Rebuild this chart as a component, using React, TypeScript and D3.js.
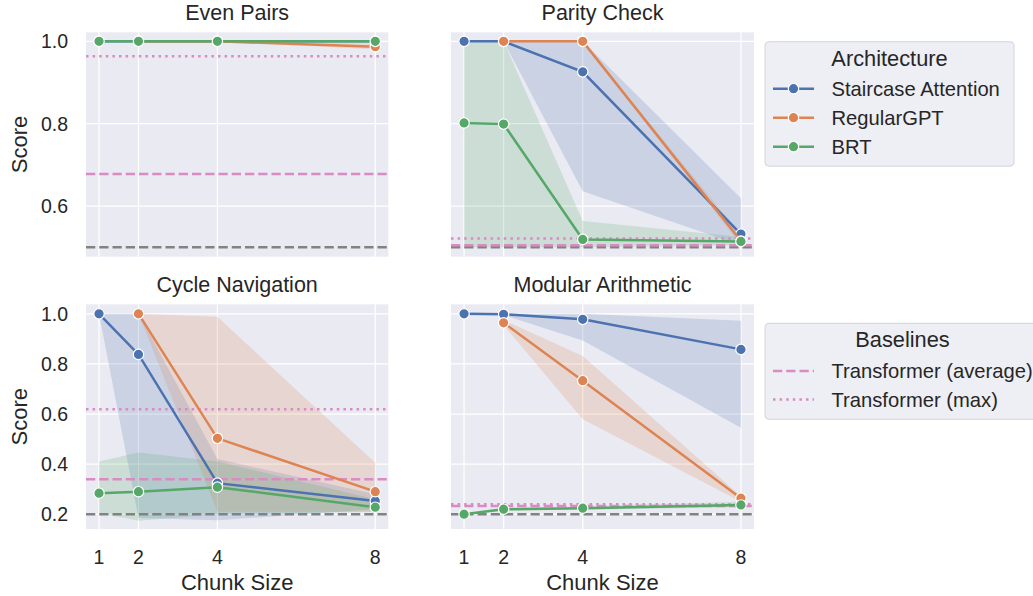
import React from "react";
import * as d3 from "d3";

const chunkSizes = [1, 2, 4, 8];
const architectures = ["Staircase Attention", "RegularGPT", "BRT"];
const archColors = ["#4c72b0", "#dd8452", "#55a868"];
const taskNames = ["Even Pairs", "Parity Check", "Cycle Navigation", "Modular Arithmetic"];

// rows: [chunk size, mean score, ci low, ci high]
const evenStaircase = [[1, 1, 1, 1], [2, 1, 1, 1], [4, 1, 1, 1], [8, 1, 1, 1]];
const evenRegular = [[2, 1, 1, 1], [4, 1, 1, 1], [8, 0.987, 0.98, 0.995]];
const evenBrt = [[1, 1, 1, 1], [2, 1, 1, 1], [4, 1, 1, 1], [8, 1, 1, 1]];

const parityStaircase = [[1, 1, 1, 1], [2, 1, 1, 1], [4, 0.926, 0.636, 1], [8, 0.532, 0.505, 0.619]];
const parityRegular = [[2, 1, 1, 1], [4, 1, 1, 1], [8, 0.515, 0.505, 0.53]];
const parityBrt = [[1, 0.802, 0.5, 1], [2, 0.799, 0.5, 1], [4, 0.519, 0.5, 0.564], [8, 0.514, 0.505, 0.525]];

const cycleStaircase = [[1, 1, 1, 1], [2, 0.838, 0.185, 1], [4, 0.324, 0.176, 0.42], [8, 0.253, 0.22, 0.28]];
const cycleRegular = [[2, 1, 1, 1], [4, 0.503, 0.21, 0.988], [8, 0.29, 0.21, 0.405]];
const cycleBrt = [[1, 0.284, 0.205, 0.41], [2, 0.29, 0.174, 0.446], [4, 0.308, 0.2, 0.41], [8, 0.228, 0.21, 0.26]];

const modStaircase = [[1, 1, 1, 1], [2, 0.998, 0.995, 1], [4, 0.978, 0.893, 1], [8, 0.858, 0.545, 0.972]];
const modRegular = [[2, 0.964, 0.955, 0.975], [4, 0.733, 0.579, 0.832], [8, 0.264, 0.25, 0.272]];
const modBrt = [[1, 0.2, 0.2, 0.2], [2, 0.22, 0.215, 0.225], [4, 0.224, 0.218, 0.232], [8, 0.237, 0.228, 0.25]];

const taskSeries = [
  [evenStaircase, evenRegular, evenBrt],
  [parityStaircase, parityRegular, parityBrt],
  [cycleStaircase, cycleRegular, cycleBrt],
  [modStaircase, modRegular, modBrt],
];

const transformerAvg = [0.678, 0.505, 0.34, 0.233];
const transformerMax = [0.964, 0.521, 0.619, 0.24];
const randomChance = [0.5, 0.5, 0.2, 0.2];

const rowTicks = [[0.6, 0.8, 1.0], [0.2, 0.4, 0.6, 0.8, 1.0]];
const rowDomains = [[0.477, 1.022], [0.141, 1.038]];

const colX = [[86, 388.3], [451, 754]];
const rowY = [[32.3, 256.7], [304.3, 529]];
const xDomain = [0.67, 8.33];

const FONT = "'Liberation Sans', Arial, Helvetica, sans-serif";
const TEXT = "#262626";
const PINK = "#da8bc3";
const GRAY = "#828282";
const DASH = "9.25 4";
const DOT = "2.5 4.1";

const Panel = ({ task, row, col }: { task: number; row: number; col: number }) => {
  const [x0, x1] = colX[col];
  const [y0, y1] = rowY[row];
  const x = d3.scaleLinear(xDomain, [x0, x1]);
  const y = d3.scaleLinear(rowDomains[row], [y1, y0]);
  const line = d3.line<number[]>((d) => x(d[0]), (d) => y(d[1]));
  const area = d3
    .area<number[]>()
    .x((d) => x(d[0]))
    .y0((d) => y(d[2]))
    .y1((d) => y(d[3]));
  const series = taskSeries[task];
  const clipId = `clip-${task}`;

  return (
    <g>
      <defs>
        <clipPath id={clipId}>
          <rect x={x0} y={y0} width={x1 - x0} height={y1 - y0} />
        </clipPath>
      </defs>
      <rect x={x0} y={y0} width={x1 - x0} height={y1 - y0} fill="#eaeaf2" />
      <g stroke="#ffffff" strokeWidth={1.25}>
        {rowTicks[row].map((t) => (
          <line key={`h${t}`} x1={x0} x2={x1} y1={y(t)} y2={y(t)} />
        ))}
        {chunkSizes.map((c) => (
          <line key={`v${c}`} x1={x(c)} x2={x(c)} y1={y0} y2={y1} />
        ))}
      </g>
      <g clipPath={`url(#${clipId})`}>
        {series.map((s, i) => (
          <path key={`a${i}`} d={area(s) ?? ""} fill={archColors[i]} fillOpacity={0.2} />
        ))}
        <line x1={x0} x2={x1} y1={y(randomChance[task])} y2={y(randomChance[task])} stroke={GRAY} strokeWidth={2.5} strokeDasharray={DASH} />
        <line x1={x0} x2={x1} y1={y(transformerAvg[task])} y2={y(transformerAvg[task])} stroke={PINK} strokeWidth={2.5} strokeDasharray={DASH} />
        <line x1={x0} x2={x1} y1={y(transformerMax[task])} y2={y(transformerMax[task])} stroke={PINK} strokeWidth={2.5} strokeDasharray={DOT} />
        {series.map((s, i) => (
          <g key={`l${i}`}>
            <path d={line(s) ?? ""} fill="none" stroke={archColors[i]} strokeWidth={2.5} />
            {s.map((d) => (
              <circle key={d[0]} cx={x(d[0])} cy={y(d[1])} r={5.2} fill={archColors[i]} stroke="#ffffff" strokeWidth={1.2} />
            ))}
          </g>
        ))}
      </g>
      <text x={(x0 + x1) / 2} y={y0 - 12} textAnchor="middle" fontSize={21.5} fill={TEXT}>
        {taskNames[task]}
      </text>
      {col === 0 &&
        rowTicks[row].map((t) => (
          <text key={`yt${t}`} x={68} y={y(t)} dy="0.36em" textAnchor="end" fontSize={19.5} fill={TEXT}>
            {t.toFixed(1)}
          </text>
        ))}
      {col === 0 && (
        <text transform={`translate(27,${(y0 + y1) / 2}) rotate(-90)`} textAnchor="middle" fontSize={22} fill={TEXT}>
          Score
        </text>
      )}
      {row === 1 &&
        chunkSizes.map((c) => (
          <text key={`xt${c}`} x={x(c)} y={563.5} textAnchor="middle" fontSize={19.5} fill={TEXT}>
            {c}
          </text>
        ))}
      {row === 1 && (
        <text x={(x0 + x1) / 2} y={590} textAnchor="middle" fontSize={22} fill={TEXT}>
          Chunk Size
        </text>
      )}
    </g>
  );
};

const Legends = () => {
  const hx0 = 773;
  const hx1 = 814;
  const tx = 831.5;
  return (
    <g fontSize={20.2} fill={TEXT}>
      <rect x={765} y={41.7} width={249} height={124.5} rx={4} fill="#eeeef5" stroke="#d4d4d8" strokeWidth={1} />
      <text x={889.5} y={66} textAnchor="middle" fontSize={21.8}>Architecture</text>
      {architectures.map((a, i) => {
        const cy = 88.7 + i * 29;
        return (
          <g key={a}>
            <line x1={hx0} x2={hx1} y1={cy} y2={cy} stroke={archColors[i]} strokeWidth={2.5} />
            <circle cx={(hx0 + hx1) / 2} cy={cy} r={5.2} fill={archColors[i]} stroke="#ffffff" strokeWidth={1.2} />
            <text x={tx} y={cy} dy="0.36em">{a}</text>
          </g>
        );
      })}
      <rect x={765} y={323.3} width={280} height={96} rx={4} fill="#eeeef5" stroke="#d4d4d8" strokeWidth={1} />
      <text x={902.5} y={347.3} textAnchor="middle" fontSize={21.8}>Baselines</text>
      <line x1={hx0} x2={hx1} y1={371} y2={371} stroke={PINK} strokeWidth={2.5} strokeDasharray={DASH} />
      <text x={tx} y={371} dy="0.36em">Transformer (average)</text>
      <line x1={hx0} x2={hx1} y1={399.5} y2={399.5} stroke={PINK} strokeWidth={2.5} strokeDasharray={DOT} />
      <text x={tx} y={399.5} dy="0.36em">Transformer (max)</text>
    </g>
  );
};

const App = () => (
  <svg
    width={1033}
    height={596}
    style={{ position: "absolute", left: 0, top: 0, background: "#ffffff", fontFamily: FONT }}
  >
    <Panel task={0} row={0} col={0} />
    <Panel task={1} row={0} col={1} />
    <Panel task={2} row={1} col={0} />
    <Panel task={3} row={1} col={1} />
    <Legends />
  </svg>
);

export default App;
